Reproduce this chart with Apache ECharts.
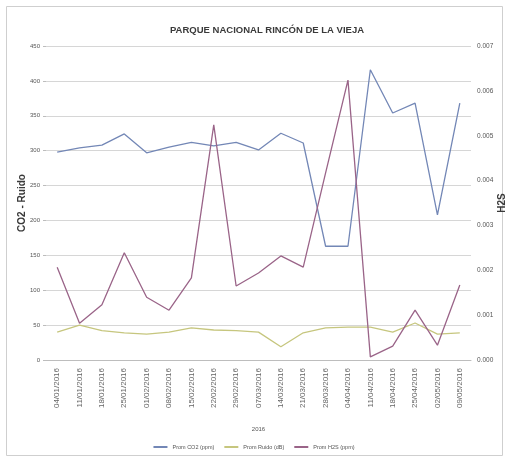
<!DOCTYPE html>
<html>
<head>
<meta charset="utf-8">
<script src="https://cdn.jsdelivr.net/npm/echarts@6/dist/echarts.min.js"></script>
<style>
  html, body { margin: 0; padding: 0; background: #ffffff; }
  #chart { width: 508px; height: 460px; }
</style>
</head>
<body>
<div id="chart"></div>
<script>
// Sampling dates (2016)
const fechas = [
  '04/01/2016', '11/01/2016', '18/01/2016', '25/01/2016', '01/02/2016',
  '08/02/2016', '15/02/2016', '22/02/2016', '29/02/2016', '07/03/2016',
  '14/03/2016', '21/03/2016', '28/03/2016', '04/04/2016', '11/04/2016',
  '18/04/2016', '25/04/2016', '02/05/2016', '09/05/2016'
];

// Average CO2 (ppm) – left axis
const promCO2 = [298, 304, 308, 324, 297, 305, 312, 307, 312, 301, 325, 311, 163, 163, 416, 354, 368, 208, 368];

// Average noise (dB) – left axis
const promRuido = [40, 50, 42, 39, 37, 40, 46, 43, 42, 40, 19, 39, 46, 47, 47, 40, 53, 37, 39];

// Average H2S (ppm) – right axis
const promH2S = [0.00207, 0.00082, 0.00123, 0.00239, 0.00140, 0.00111, 0.00183, 0.00524, 0.00165, 0.00194,
                 0.00232, 0.00207, 0.00417, 0.00624, 0.00007, 0.00031, 0.00111, 0.00033, 0.00167];

// Tick values
const leftTicks = [0, 50, 100, 150, 200, 250, 300, 350, 400, 450];
const rightTicks = [0, 0.001, 0.002, 0.003, 0.004, 0.005, 0.006, 0.007];

const chart = echarts.init(document.getElementById('chart'), null, { renderer: 'canvas' });

const labelColor = '#555555';
const font = 'Liberation Sans, Arial, sans-serif';

chart.setOption({
  backgroundColor: '#ffffff',
  animation: false,
  title: {
    text: 'PARQUE NACIONAL RINCÓN DE LA VIEJA',
    left: 262,
    textAlign: 'center',
    top: 20,
    textStyle: { fontFamily: font, fontSize: 9.5, fontWeight: 'bold', color: '#3a3a3a' }
  },
  graphic: [{
    type: 'rect',
    shape: { x: 6.5, y: 6.5, width: 496, height: 449 },
    style: { fill: 'none', stroke: '#cfcfcf', lineWidth: 1 },
    silent: true
  }],
  legend: {
    bottom: 5,
    left: 'center',
    itemWidth: 14,
    itemHeight: 2,
    itemGap: 10,
    icon: 'rect',
    textStyle: { fontFamily: font, fontSize: 5.5, color: labelColor },
    data: ['Prom CO2 (ppm)', 'Prom Ruido (dB)', 'Prom H2S (ppm)']
  },
  grid: { left: 46, right: 37, top: 46, bottom: 100, containLabel: false, outerBoundsMode: 'none' },
  xAxis: {
    type: 'category',
    data: fechas,
    boundaryGap: true,
    name: '2016',
    nameLocation: 'middle',
    nameGap: 66,
    nameMoveOverlap: false,
    nameTextStyle: { fontFamily: font, fontSize: 6, color: labelColor },
    axisLine: { show: true, lineStyle: { color: '#bdbdbd', width: 1 } },
    axisTick: { show: false },
    axisLabel: { rotate: 90, fontFamily: font, fontSize: 8, color: '#666666', margin: 8, interval: 0 }
  },
  yAxis: [
    {
      type: 'value',
      min: 0,
      max: 450,
      interval: 50,
      name: 'CO2 - Ruido',
      nameLocation: 'middle',
      nameGap: 19,
      nameMoveOverlap: false,
      nameRotate: 90,
      nameTextStyle: { fontFamily: font, fontSize: 10, fontWeight: 'bold', color: '#3a3a3a' },
      axisLine: { show: false },
      axisTick: { show: true, length: 3, lineStyle: { color: '#bdbdbd' } },
      axisLabel: { fontFamily: font, fontSize: 6, color: labelColor, margin: 6 },
      splitLine: { show: true, lineStyle: { color: '#d6d6d6', width: 1 } }
    },
    {
      type: 'value',
      min: 0,
      max: 0.007,
      interval: 0.001,
      name: 'H2S',
      nameLocation: 'middle',
      nameGap: 26,
      nameMoveOverlap: false,
      nameRotate: 90,
      nameTextStyle: { fontFamily: font, fontSize: 10, fontWeight: 'bold', color: '#3a3a3a' },
      axisLine: { show: false },
      axisTick: { show: false },
      axisLabel: { fontFamily: font, fontSize: 6.5, color: labelColor, margin: 6, formatter: v => v.toFixed(3) },
      splitLine: { show: false }
    }
  ],
  series: [
    {
      name: 'Prom CO2 (ppm)',
      type: 'line',
      yAxisIndex: 0,
      data: promCO2,
      symbol: 'none',
      lineStyle: { color: '#7387b6', width: 1.3 },
      itemStyle: { color: '#7387b6' }
    },
    {
      name: 'Prom Ruido (dB)',
      type: 'line',
      yAxisIndex: 0,
      data: promRuido,
      symbol: 'none',
      lineStyle: { color: '#c6c67e', width: 1.3 },
      itemStyle: { color: '#c6c67e' }
    },
    {
      name: 'Prom H2S (ppm)',
      type: 'line',
      yAxisIndex: 1,
      data: promH2S,
      symbol: 'none',
      lineStyle: { color: '#9a6488', width: 1.3 },
      itemStyle: { color: '#9a6488' }
    }
  ]
});
</script>
</body>
</html>
